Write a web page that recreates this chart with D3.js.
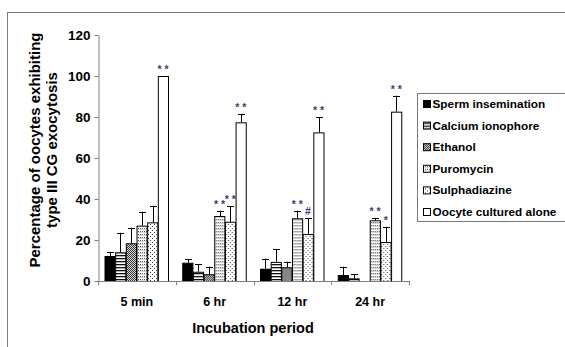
<!DOCTYPE html>
<html>
<head>
<meta charset="utf-8">
<script src="https://cdn.jsdelivr.net/npm/d3@7"></script>
<style>
  body { margin: 0; background: #fff; }
  svg { display: block; font-family: "Liberation Sans", Arial, sans-serif; }
</style>
</head>
<body>
<div id="chart"></div>
<script>
// categories and series
const periods = ["5 min", "6 hr", "12 hr", "24 hr"];
const treatments = ["Sperm insemination", "Calcium ionophore", "Ethanol", "Puromycin", "Sulphadiazine", "Oocyte cultured alone"];
const yTicks = [0, 20, 40, 60, 80, 100, 120];

// mean values per treatment (one entry per period)
const sperm     = [12.2, 8.9, 6.0, 2.9];
const calcium   = [14.0, 4.5, 9.3, 1.3];
const ethanol   = [18.4, 3.3, 6.7, 0];
const puromycin = [27.0, 31.7, 30.6, 29.6];
const sulpha    = [28.6, 28.9, 22.9, 19.0];
const alone     = [100, 77.4, 72.5, 82.6];

// top of error bar (mean + SD)
const spermErr     = [14.0, 10.6, 10.9, 7.0];
const calciumErr   = [23.5, 8.1, 15.5, 3.3];
const ethanolErr   = [26.0, 7.0, 9.4, null];
const puromycinErr = [33.8, 34.3, 34.3, 30.7];
const sulphaErr    = [36.7, 36.6, 30.6, 26.5];
const aloneErr     = [null, 81.5, 79.9, 90.4];

// significance marks
const puromycinSig = ["", "* *", "* *", "* *"];
const sulphaSig    = ["", "* *", "#", "*"];
const aloneSig     = ["* *", "* *", "* *", "* *"];

const values = [sperm, calcium, ethanol, puromycin, sulpha, alone];
const errors = [spermErr, calciumErr, ethanolErr, puromycinErr, sulphaErr, aloneErr];
const sigs = [null, null, null, puromycinSig, sulphaSig, aloneSig];

const W = 565, H = 347;
const svg = d3.select("#chart").append("svg").attr("width", W).attr("height", H);

// patterns
const defs = svg.append("defs");
const fills = ["#000", "url(#p-hstripe)", "url(#p-check)", "url(#p-rowdots)", "url(#p-dots)", "#fff"];

let p = defs.append("pattern").attr("id", "p-hstripe").attr("patternUnits", "userSpaceOnUse").attr("width", 4).attr("height", 3);
p.append("rect").attr("width", 4).attr("height", 3).attr("fill", "#fff");
p.append("rect").attr("y", 0).attr("width", 4).attr("height", 1.3).attr("fill", "#111");

p = defs.append("pattern").attr("id", "p-check").attr("patternUnits", "userSpaceOnUse").attr("width", 2).attr("height", 2);
p.append("rect").attr("width", 2).attr("height", 2).attr("fill", "#d8d8d8");
p.append("rect").attr("width", 1).attr("height", 1).attr("fill", "#333");
p.append("rect").attr("x", 1).attr("y", 1).attr("width", 1).attr("height", 1).attr("fill", "#333");

p = defs.append("pattern").attr("id", "p-rowdots").attr("patternUnits", "userSpaceOnUse").attr("width", 2).attr("height", 3);
p.append("rect").attr("width", 2).attr("height", 3).attr("fill", "#fff");
p.append("rect").attr("width", 1).attr("height", 1).attr("fill", "#555");
p.append("rect").attr("y", 1).attr("width", 2).attr("height", 0.6).attr("fill", "#bbb");

p = defs.append("pattern").attr("id", "p-dots").attr("patternUnits", "userSpaceOnUse").attr("width", 4).attr("height", 4);
p.append("rect").attr("width", 4).attr("height", 4).attr("fill", "#fff");
p.append("rect").attr("width", 1).attr("height", 1).attr("fill", "#444");
p.append("rect").attr("x", 2).attr("y", 2).attr("width", 1).attr("height", 1).attr("fill", "#444");

// outer frame
svg.append("rect").attr("x", 7.5).attr("y", 12.5).attr("width", W + 20).attr("height", H + 20)
  .attr("fill", "none").attr("stroke", "#7a7a7a").attr("stroke-width", 1);

// scales
const x0 = d3.scaleBand().domain(periods).range([98, 409]);
const x1 = d3.scaleBand().domain(d3.range(treatments.length)).range([6.5, 70.5]);
const y = d3.scaleLinear().domain([0, 120]).range([281, 35]);

// y axis
const yAxis = svg.append("g").attr("transform", "translate(98.5,0)")
  .call(d3.axisLeft(y).tickValues(yTicks).tickSize(4).tickSizeOuter(0));
yAxis.select(".domain").attr("stroke", "#808080");
yAxis.selectAll(".tick line").attr("stroke", "#808080");
yAxis.selectAll(".tick text").attr("fill", "#000").attr("font-size", 13.5).attr("font-weight", "bold").attr("x", -8);

// bars
const groups = svg.append("g").selectAll("g").data(periods).join("g")
  .attr("transform", d => `translate(${x0(d)},0)`);

treatments.forEach((t, s) => {
  groups.append("rect")
    .attr("x", d => x1(s) + 0.5)
    .attr("y", (d, i) => y(values[s][i]) + 0.5)
    .attr("width", x1.bandwidth() - 0.5)
    .attr("height", (d, i) => Math.max(0, y(0) - y(values[s][i])))
    .attr("fill", fills[s])
    .attr("stroke", "#000")
    .attr("stroke-width", 1)
    .style("display", (d, i) => values[s][i] > 0 ? null : "none");
});

// error bars
treatments.forEach((t, s) => {
  periods.forEach((per, i) => {
    const e = errors[s][i];
    if (e == null) return;
    const cx = Math.round(x0(per) + x1(s) + x1.bandwidth() / 2) + 0.5;
    const g = svg.append("g").attr("stroke", "#000").attr("stroke-width", 1);
    g.append("line").attr("x1", cx).attr("x2", cx).attr("y1", y(values[s][i])).attr("y2", y(e));
    g.append("line").attr("x1", cx - 3.5).attr("x2", cx + 3.5).attr("y1", Math.round(y(e)) + 0.5).attr("y2", Math.round(y(e)) + 0.5);
  });
});

// significance labels
treatments.forEach((t, s) => {
  if (!sigs[s]) return;
  periods.forEach((per, i) => {
    const lbl = sigs[s][i];
    if (!lbl) return;
    const top = errors[s][i] != null ? errors[s][i] : values[s][i];
    svg.append("text")
      .attr("x", x0(per) + x1(s) + x1.bandwidth() / 2)
      .attr("y", y(top) - 3)
      .attr("text-anchor", "middle")
      .attr("font-size", 10.5)
      .attr("font-weight", "bold")
      .attr("fill", "#3a3c78")
      .text(lbl);
  });
});

// x axis
const xa = svg.append("g");
xa.append("line").attr("x1", 98).attr("x2", 409).attr("y1", 281.5).attr("y2", 281.5).attr("stroke", "#808080");
xa.selectAll(".xt").data(periods.concat([null])).join("line")
  .attr("x1", (d, i) => Math.round(i < periods.length ? x0(d) : x0.range()[1]) + 0.5)
  .attr("x2", (d, i) => Math.round(i < periods.length ? x0(d) : x0.range()[1]) + 0.5)
  .attr("y1", 281).attr("y2", 285).attr("stroke", "#808080");
xa.selectAll(".xl").data(periods).join("text")
  .attr("x", d => x0(d) + x0.bandwidth() / 2)
  .attr("y", 306)
  .attr("text-anchor", "middle")
  .attr("font-size", 12.5)
  .attr("font-weight", "bold")
  .text(d => d);

// axis titles
svg.append("text").attr("x", 253).attr("y", 333).attr("text-anchor", "middle")
  .attr("font-size", 14.5).attr("font-weight", "bold").text("Incubation period");

const yt = svg.append("text").attr("transform", "translate(0,150) rotate(-90)")
  .attr("text-anchor", "middle").attr("font-size", 15).attr("font-weight", "bold");
yt.append("tspan").attr("x", 0).attr("y", 40).text("Percentage of oocytes exhibiting");
yt.append("tspan").attr("x", 0).attr("y", 57).text("type III CG exocytosis");

// legend
svg.append("rect").attr("x", 417.5).attr("y", 93.5).attr("width", 170).attr("height", 128)
  .attr("fill", "#fff").attr("stroke", "#7a7a7a");
const lg = svg.append("g").selectAll("g").data(treatments).join("g")
  .attr("transform", (d, i) => `translate(423,${104 + i * 21.6})`);
lg.append("rect").attr("x", 0.5).attr("y", -3.5).attr("width", 7).attr("height", 7)
  .attr("fill", (d, i) => fills[i]).attr("stroke", "#000");
lg.append("text").attr("x", 9.5).attr("y", 4).attr("font-size", 11.8).attr("font-weight", "bold")
  .text(d => d);
</script>
</body>
</html>
